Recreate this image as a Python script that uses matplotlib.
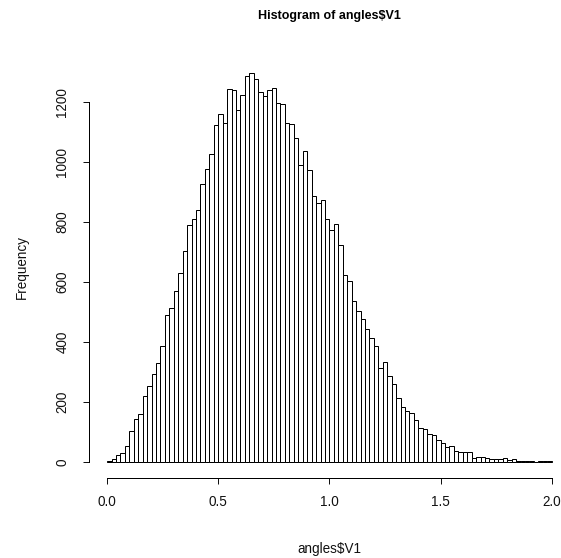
import numpy as np
import matplotlib
matplotlib.use('Agg')
import matplotlib.pyplot as plt

plt.rcParams['font.family'] = ['Liberation Sans', 'DejaVu Sans']

# histogram of angles$V1 : 100 bins of width 0.02 between 0 and 2
bin_start = 0.0
bin_width = 0.02
counts = [
    3, 9, 22, 30, 54, 105, 143, 160, 219, 252,
    295, 329, 387, 489, 512, 571, 630, 702, 789, 811,
    839, 925, 978, 1025, 1122, 1159, 1130, 1242, 1239, 1172,
    1222, 1285, 1298, 1276, 1234, 1220, 1239, 1246, 1197, 1193,
    1130, 1126, 1080, 991, 1036, 972, 886, 862, 874, 811,
    773, 794, 723, 622, 605, 538, 505, 478, 442, 412,
    387, 312, 332, 286, 261, 214, 184, 169, 164, 139,
    114, 109, 93, 89, 73, 64, 49, 52, 38, 33,
    32, 35, 14, 17, 16, 13, 11, 10, 9, 14,
    7, 10, 3, 3, 3, 2, 0, 3, 3, 3,
]
x_ticks = [0.0, 0.5, 1.0, 1.5, 2.0]
y_ticks = [0, 200, 400, 600, 800, 1000, 1200]

title = 'Histogram of angles$V1'
xlabel = 'angles$V1'
ylabel = 'Frequency'

lefts = bin_start + bin_width * np.arange(len(counts))

W, H = 561, 558
fig = plt.figure(figsize=(W / 72, H / 72), dpi=72)
# plot region in pixels (R style, partly cut at right edge)
left_px, right_px, top_px, bottom_px = 89.3, 569.5, 57.0, 477.6
ax = fig.add_axes([left_px / W, 1 - bottom_px / H,
                   (right_px - left_px) / W, (bottom_px - top_px) / H])

ax.bar(lefts, counts, width=bin_width, align='edge',
       color='white', edgecolor='black', linewidth=1.0)

ymax = max(counts)
ax.set_xlim(-0.04 * 2, 2 + 0.04 * 2)
ax.set_ylim(-0.04 * ymax, 1.04 * ymax)

for s in ['top', 'right']:
    ax.spines[s].set_visible(False)
ax.spines['bottom'].set_bounds(x_ticks[0], x_ticks[-1])
ax.spines['left'].set_bounds(y_ticks[0], y_ticks[-1])
for s in ['bottom', 'left']:
    ax.spines[s].set_linewidth(1.0)

ax.set_xticks(x_ticks)
ax.set_xticklabels([f'{v:.1f}' for v in x_ticks])
ax.set_yticks(y_ticks)
ax.set_yticklabels([str(v) for v in y_ticks], rotation=90, va='center')
ax.tick_params(axis='x', length=6, width=1, pad=11, labelsize=13.5, colors='#111111')
ax.tick_params(axis='y', length=6, width=1, pad=14, labelsize=13.5, colors='#111111')

ax.set_xlabel(xlabel, fontsize=13.5, va='center', color='#111111')
ax.xaxis.set_label_coords(0.5, (bottom_px - 549) / (bottom_px - top_px))
ax.set_ylabel(ylabel, fontsize=13.5, va='center', color='#111111')
ax.yaxis.set_label_coords((22 - left_px) / (right_px - left_px), 0.5)

ax.set_title(title, fontsize=12.5, fontweight='bold', va='center',
             y=(bottom_px - 22) / (bottom_px - top_px))

fig.savefig('out.png', dpi=72)
